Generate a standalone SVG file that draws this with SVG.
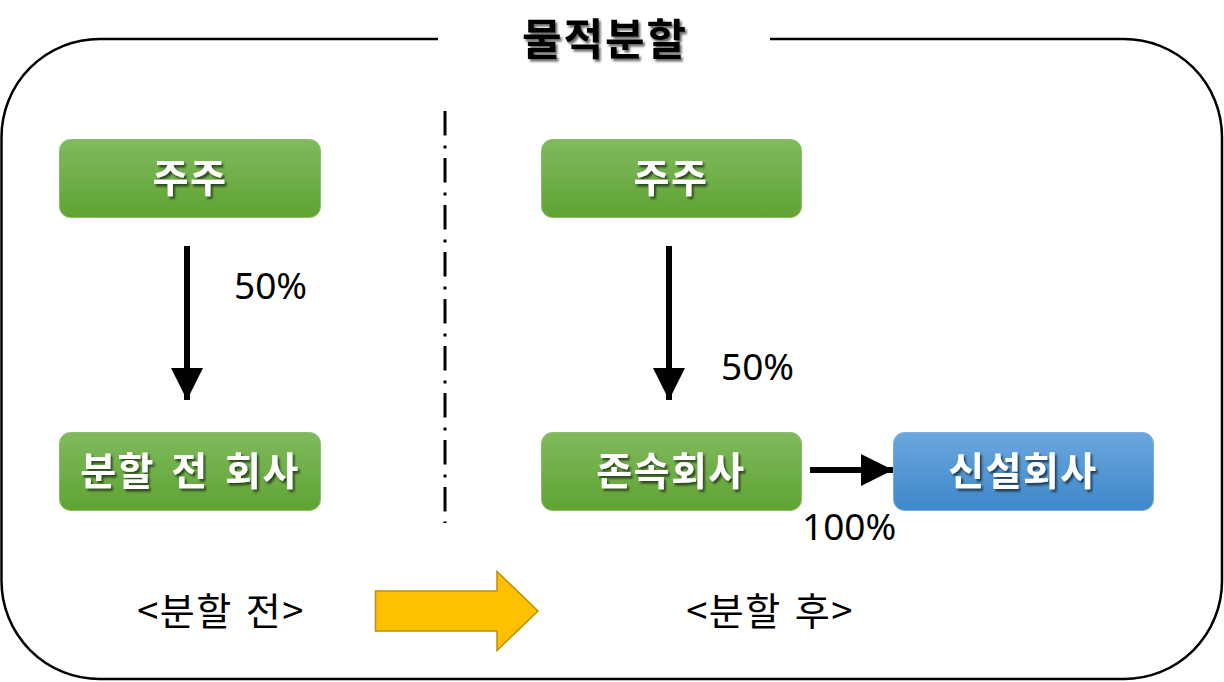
<svg xmlns="http://www.w3.org/2000/svg" width="1224" height="682" viewBox="0 0 1224 682">
  <style>
    .frame { fill: none; stroke: #000; stroke-width: 2.5; }
    .box-green { fill: url(#gGreen); stroke: #8cc068; stroke-width: 1; }
    .box-blue { fill: url(#gBlue); stroke: #7aaee0; stroke-width: 1; }
    .node-label { font-family: "Noto Sans CJK KR", "Noto Sans", sans-serif; font-weight: bold; font-size: 39px; letter-spacing: 1.5px; word-spacing: 6px; fill: #fff; text-anchor: middle; filter: url(#shadow); }
    .title { font-family: "Noto Sans CJK KR", "Noto Sans", sans-serif; font-weight: bold; font-size: 43px; letter-spacing: 2px; fill: #000; text-anchor: middle; filter: url(#shadow); }
    .pct { font-family: "Noto Sans", "Noto Sans CJK KR", sans-serif; font-size: 37px; fill: #000; }
    .caption { font-family: "Noto Sans CJK KR", "Noto Sans", sans-serif; font-size: 38px; letter-spacing: 1.5px; word-spacing: 3px; fill: #000; text-anchor: middle; }
    .conn { stroke: #000; stroke-width: 6; fill: none; marker-end: url(#arrow); }
    .divider { stroke: #000; stroke-width: 3; stroke-dasharray: 24.5 10 3 9.5; fill: none; }
  </style>
  <defs>
    <linearGradient id="gGreen" x1="0" y1="0" x2="0" y2="1">
      <stop offset="0" stop-color="#80ba5e"/>
      <stop offset="1" stop-color="#5fa333"/>
    </linearGradient>
    <linearGradient id="gBlue" x1="0" y1="0" x2="0" y2="1">
      <stop offset="0" stop-color="#6ba7de"/>
      <stop offset="1" stop-color="#3d87c9"/>
    </linearGradient>
    <filter id="shadow" x="-20%" y="-20%" width="140%" height="160%">
      <feDropShadow dx="2" dy="2.5" stdDeviation="1.2" flood-color="#000" flood-opacity="0.6"/>
    </filter>
    <marker id="arrow" markerUnits="userSpaceOnUse" markerWidth="32" markerHeight="32" viewBox="0 0 30 30" refX="30" refY="15" orient="auto">
      <path d="M0,0 L30,15 L0,30 Z" fill="#000"/>
    </marker>
  </defs>

  <g id="frame">
    <path class="frame" d="M438,39 H99.5 A98,98 0 0 0 1.5,137 V581 A98,98 0 0 0 99.5,679 H1124 A98,98 0 0 0 1222,581 V137 A98,98 0 0 0 1124,39 H770"/>
    <text class="title" x="605" y="55">물적분할</text>
  </g>

  <g id="divider">
    <line class="divider" x1="445" y1="111" x2="445" y2="523"/>
  </g>

  <g id="connectors">
    <line class="conn" x1="187" y1="246" x2="187" y2="400"/>
    <line class="conn" x1="669" y1="246" x2="669" y2="400"/>
    <line class="conn" x1="810" y1="470" x2="893" y2="470"/>
  </g>

  <g id="node-shareholder-before">
    <rect class="box-green" x="59.5" y="139.5" width="261" height="78" rx="11"/>
    <text class="node-label" x="190" y="192">주주</text>
  </g>
  <g id="node-company-before">
    <rect class="box-green" x="59.5" y="432.5" width="261" height="78" rx="11"/>
    <text class="node-label" x="190" y="485">분할 전 회사</text>
  </g>
  <g id="node-shareholder-after">
    <rect class="box-green" x="541.5" y="139.5" width="260" height="78" rx="11"/>
    <text class="node-label" x="671" y="192">주주</text>
  </g>
  <g id="node-surviving">
    <rect class="box-green" x="541.5" y="432.5" width="260" height="78" rx="11"/>
    <text class="node-label" x="671" y="485">존속회사</text>
  </g>
  <g id="node-new">
    <rect class="box-blue" x="893.5" y="432.5" width="260" height="78" rx="11"/>
    <text class="node-label" x="1023" y="485">신설회사</text>
  </g>

  <g id="labels">
    <text class="pct" x="234" y="299">50%</text>
    <text class="pct" x="721" y="380">50%</text>
    <text class="pct" x="802" y="540">100%</text>
    <text class="caption" x="221" y="625">&lt;분할 전&gt;</text>
    <text class="caption" x="770" y="625">&lt;분할 후&gt;</text>
  </g>

  <g id="transition-arrow">
    <polygon points="375.5,591 497,591 497,571.5 538,611 497,650.5 497,631 375.5,631" fill="#ffc000" stroke="#bf9000" stroke-width="1.5"/>
  </g>
</svg>
